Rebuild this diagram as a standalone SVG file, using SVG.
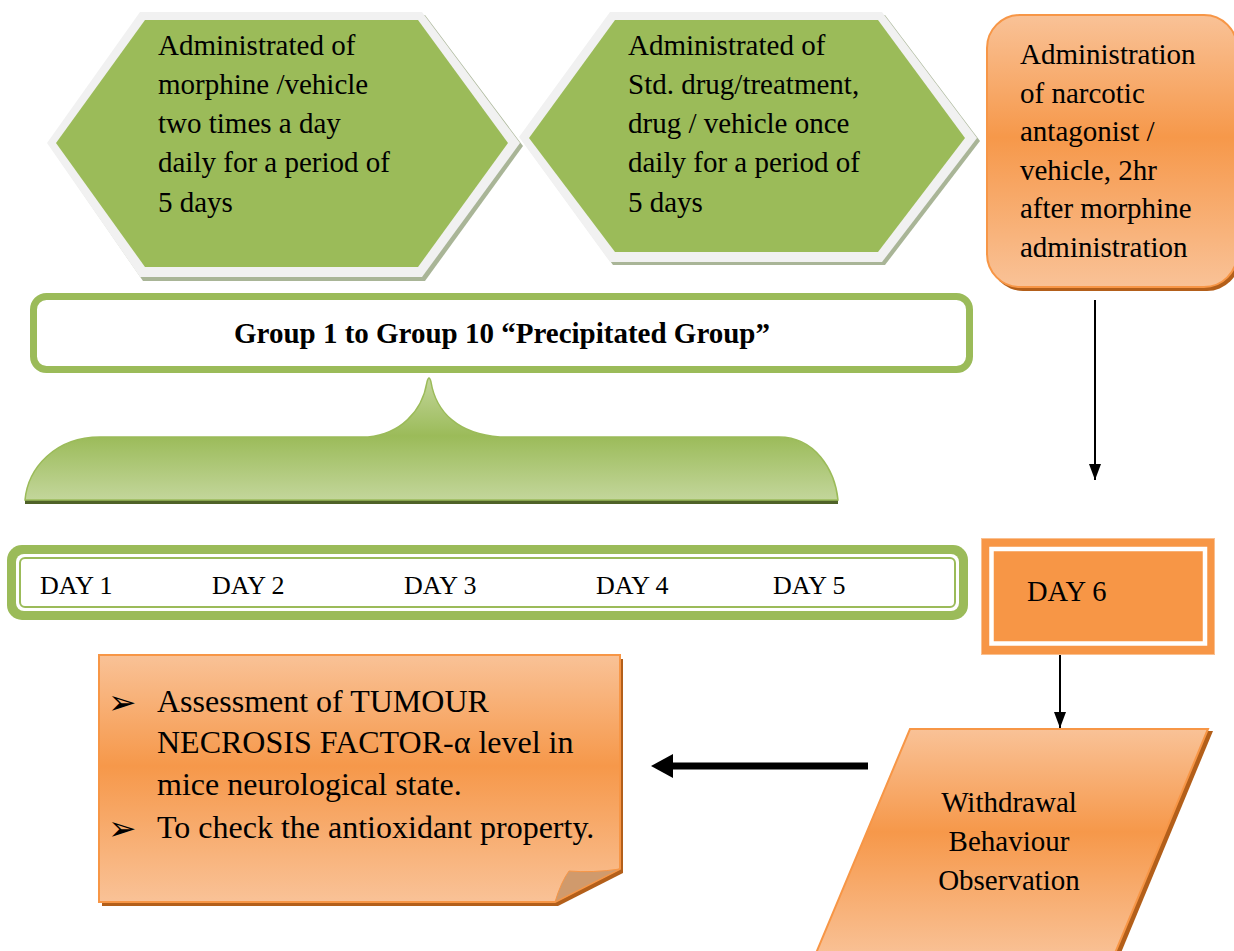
<svg xmlns="http://www.w3.org/2000/svg" width="1234" height="951" viewBox="0 0 1234 951">
  <defs>
    <linearGradient id="orangeGrad" x1="0" y1="0" x2="0" y2="1">
      <stop offset="0" stop-color="#F9C297"/>
      <stop offset="0.45" stop-color="#F6984A"/>
      <stop offset="1" stop-color="#F9C297"/>
    </linearGradient>
    <linearGradient id="braceGrad" x1="0" y1="377" x2="0" y2="500" gradientUnits="userSpaceOnUse">
      <stop offset="0" stop-color="#C3D69B"/>
      <stop offset="0.48" stop-color="#9BBB59"/>
      <stop offset="1" stop-color="#C3D69B"/>
    </linearGradient>
    <marker id="thinHead" viewBox="0 0 16 12" refX="16" refY="6" markerWidth="16" markerHeight="12" markerUnits="userSpaceOnUse" orient="auto">
      <path d="M0,0 L16,6 L0,12 Z" fill="#000"/>
    </marker>
    <style>
      .txt { font-family: "Liberation Serif", "Times New Roman", serif; fill: #000; }
      .body { font-size: 29px; }
      .day { font-size: 26px; }
      .note { font-size: 32px; }
      .bullet { font-family: "DejaVu Sans", sans-serif; font-size: 34px; fill: #000; }
      .hexShadow { fill: #A9B597; }
      .hexRim { fill: #F1F1F1; }
      .hexFill { fill: #9BBB59; }
      .orangeFill { fill: url(#orangeGrad); stroke: #F79646; stroke-width: 2; }
      .orangeShadow { fill: #B35F1A; }
      .conn { stroke: #000; fill: none; }
    </style>
  </defs>

  <!-- morphine dosing hexagon -->
  <g id="hex-morphine">
    <polygon class="hexShadow" points="143,15 425,15 523,146 425,281 143,281 50,146"/>
    <polygon class="hexRim" points="140,12 422,12 520,143 422,277 140,277 47,143"/>
    <polygon class="hexFill" points="145,20 418,20 508,143 418,267 145,267 56,143"/>
    <text class="txt body" x="158" y="55">Administrated of</text>
    <text class="txt body" x="158" y="94">morphine /vehicle</text>
    <text class="txt body" x="158" y="133">two times a day</text>
    <text class="txt body" x="158" y="172">daily for a period of</text>
    <text class="txt body" x="158" y="212">5 days</text>
  </g>

  <!-- treatment dosing hexagon -->
  <g id="hex-treatment">
    <polygon class="hexShadow" points="613,15 885,15 980,141 885,265 613,265 522,140"/>
    <polygon class="hexRim" points="610,12 882,12 977,138 882,262 610,262 519,137"/>
    <polygon class="hexFill" points="615,20 878,20 965,138 878,252 615,252 529,138"/>
    <text class="txt body" x="628" y="55">Administrated of</text>
    <text class="txt body" x="628" y="94">Std. drug/treatment,</text>
    <text class="txt body" x="628" y="133">drug / vehicle once</text>
    <text class="txt body" x="628" y="172">daily for a period of</text>
    <text class="txt body" x="628" y="212">5 days</text>
  </g>

  <!-- antagonist box -->
  <g id="antagonist">
    <rect class="orangeShadow" x="990" y="19" width="250" height="272" rx="33"/>
    <rect class="orangeFill" x="987" y="15" width="250" height="272" rx="33"/>
    <text class="txt body" x="1020" y="64">Administration</text>
    <text class="txt body" x="1020" y="103">of narcotic</text>
    <text class="txt body" x="1020" y="141">antagonist /</text>
    <text class="txt body" x="1020" y="180">vehicle, 2hr</text>
    <text class="txt body" x="1020" y="218">after morphine</text>
    <text class="txt body" x="1020" y="257">administration</text>
  </g>

  <!-- group banner -->
  <g id="group-banner">
    <rect x="33.5" y="296.5" width="936" height="73" rx="13" fill="#FFFFFF" stroke="#9BBB59" stroke-width="7"/>
    <text class="txt" x="502" y="343" text-anchor="middle" font-size="29" font-weight="bold">Group 1 to Group 10 “Precipitated Group”</text>
  </g>

  <!-- brace -->
  <g id="brace">
    <rect x="25" y="497" width="813" height="7" fill="#4F6228"/>
    <path d="M25,500 C28,468 55,437 100,437 L368,437 C400,434 422,412 427,382 Q429,374 431,382 C436,412 458,434 500,437 L779,437 C815,437 835,470 838,500 Z" fill="url(#braceGrad)" stroke="#9BBB59" stroke-width="1.5"/>
  </g>

  <!-- day 1 to day 5 bar -->
  <g id="days-bar">
    <rect x="7" y="545" width="961" height="75" rx="15" fill="#9BBB59"/>
    <rect x="16" y="554" width="943" height="57" rx="8" fill="#FFFFFF"/>
    <rect x="20" y="558" width="935" height="49" rx="5" fill="none" stroke="#9BBB59" stroke-width="2"/>
    <text class="txt day" x="40" y="594">DAY 1</text>
    <text class="txt day" x="212" y="594">DAY 2</text>
    <text class="txt day" x="404" y="594">DAY 3</text>
    <text class="txt day" x="596" y="594">DAY 4</text>
    <text class="txt day" x="773" y="594">DAY 5</text>
  </g>

  <!-- day 6 box -->
  <g id="day6">
    <rect x="981.5" y="538.5" width="233" height="116" fill="#F79646" stroke="#FAC090" stroke-width="1"/>
    <rect x="991.5" y="549" width="213.5" height="94.5" fill="none" stroke="#FFFFFF" stroke-width="4.5"/>
    <text class="txt" x="1027" y="601" font-size="28.5">DAY 6</text>
  </g>

  <!-- withdrawal observation parallelogram -->
  <g id="withdrawal">
    <polygon class="orangeShadow" points="914,731 1213,731 1118,960 818,960"/>
    <polygon class="orangeFill" points="910,729 1208,729 1113,958 814,958"/>
    <text class="txt body" x="1009" y="812" text-anchor="middle">Withdrawal</text>
    <text class="txt body" x="1009" y="851" text-anchor="middle">Behaviour</text>
    <text class="txt body" x="1009" y="890" text-anchor="middle">Observation</text>
  </g>

  <!-- assessment note with folded corner -->
  <g id="assessment">
    <path d="M102,659 H623 V873 L558,906 H102 Z" class="orangeShadow"/>
    <path d="M99,655 H620 V869 L555,902 H99 Z" fill="url(#orangeGrad)" stroke="#F79646" stroke-width="2"/>
    <path d="M555,902 Q561,882 569,871 Q592,873 620,869 Z" fill="#D09A6C" stroke="#F79646" stroke-width="1"/>
    <text class="bullet" x="108" y="714">➢</text>
    <text class="txt note" x="157" y="712">Assessment of TUMOUR</text>
    <text class="txt note" x="157" y="753">NECROSIS FACTOR-α level in</text>
    <text class="txt note" x="157" y="795">mice neurological state.</text>
    <text class="bullet" x="108" y="840">➢</text>
    <text class="txt note" x="157" y="838">To check the antioxidant property.</text>
  </g>

  <!-- connectors -->
  <g id="connectors">
    <line class="conn" x1="1095" y1="300" x2="1095" y2="480" stroke-width="2" marker-end="url(#thinHead)"/>
    <line class="conn" x1="1060" y1="655" x2="1060" y2="728" stroke-width="2" marker-end="url(#thinHead)"/>
    <line class="conn" x1="868" y1="766" x2="668" y2="766" stroke-width="7"/>
    <polygon points="651,766 673,754 673,778" fill="#000"/>
  </g>
</svg>
